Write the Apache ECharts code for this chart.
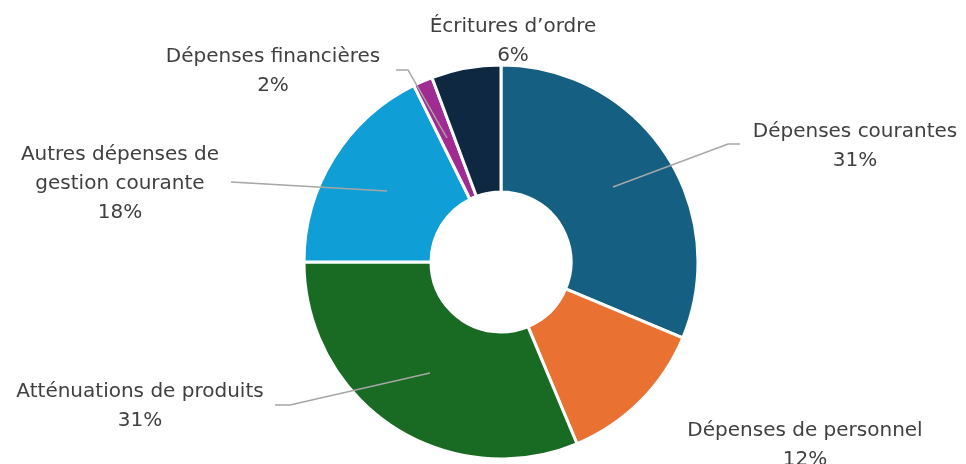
<!DOCTYPE html>
<html>
<head>
<meta charset="utf-8">
<script src="https://cdn.jsdelivr.net/npm/echarts@6/dist/echarts.min.js"></script>
<style>
    html, body { margin: 0; padding: 0; background: #fff; }
    #chart { width: 966px; height: 464px; }
</style>
</head>
<body>
<div id="chart"></div>
<script>
    // catégories de dépenses (sens horaire depuis midi)
    var categories = ['Dépenses courantes', 'Dépenses de personnel', 'Atténuations de produits',
        'Autres dépenses de\ngestion courante', 'Dépenses financières', 'Écritures d\u2019ordre'];
    var values = [31.3, 12.4, 31.3, 17.7, 1.6, 5.7];
    var colors = ['#156082', '#E97132', '#196B24', '#0F9ED5', '#A02B93', '#0E2841'];

    // position des étiquettes [x, y] et lignes de rappel
    var labelPos = [[855, 146], [805, 445], [140, 406], [120, 184], [273, 71], [513, 41]];
    var leaderLines = [
        [[613, 187], [728, 144], [740, 144]],
        null,
        [[275, 405], [290, 405], [430, 373]],
        [[231, 182], [387, 191]],
        [[396, 70], [408, 70], [447, 138]],
        null
    ];

    var data = [];
    for (var i = 0; i < categories.length; i++) {
        data.push({
            name: categories[i],
            value: values[i],
            itemStyle: { color: colors[i] }
        });
    }

    var graphics = [];
    leaderLines.forEach(function(pts) {
        if (!pts) return;
        graphics.push({
            type: 'polyline',
            z: 100,
            shape: { points: pts },
            style: { stroke: '#a6a6a6', lineWidth: 1.5, fill: null }
        });
    });

    var myChart = echarts.init(document.getElementById('chart'));
    myChart.setOption({
        animation: false,
        graphic: graphics,
        series: [{
            type: 'pie',
            center: [501, 262],
            radius: [70, 197],
            startAngle: 90,
            clockwise: true,
            data: data,
            itemStyle: {
                borderColor: '#fff',
                borderWidth: 3
            },
            label: {
                show: true,
                formatter: function(p) {
                    return p.name + '\n' + Math.round(p.percent) + '%';
                },
                color: '#404040',
                fontFamily: 'DejaVu Sans',
                fontSize: 20,
                lineHeight: 29,
                align: 'center'
            },
            labelLine: { show: false },
            labelLayout: function(params) {
                var p = labelPos[params.dataIndex];
                return {
                    x: p[0],
                    y: p[1],
                    align: 'center',
                    verticalAlign: 'middle'
                };
            }
        }]
    });
</script>
</body>
</html>
